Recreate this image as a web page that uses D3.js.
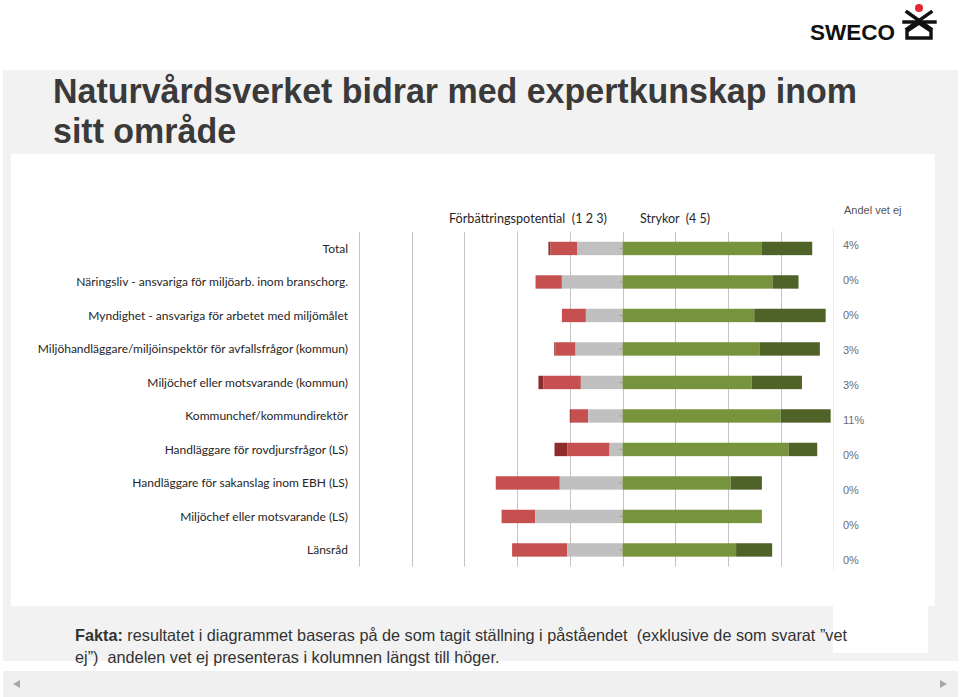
<!DOCTYPE html>
<html><head><meta charset="utf-8">
<script src="https://cdn.jsdelivr.net/npm/d3@7"></script>
<style>
html,body{margin:0;padding:0;background:#fff;}
svg{display:block;}
</style></head>
<body>
<svg id="c" width="960" height="697"></svg>
<script>
// ---- data ----
const categories = [
  "Total",
  "Näringsliv - ansvariga för miljöarb. inom branschorg.",
  "Myndighet - ansvariga för arbetet med miljömålet",
  "Miljöhandläggare/miljöinspektör för avfallsfrågor (kommun)",
  "Miljöchef eller motsvarande (kommun)",
  "Kommunchef/kommundirektör",
  "Handläggare för rovdjursfrågor (LS)",
  "Handläggare för sakanslag inom EBH (LS)",
  "Miljöchef eller motsvarande (LS)",
  "Länsråd"
];
const s1 = [0.8, 0, 0, 0.5, 1.8, 0.4, 4.8, 0, 0, 0];          // 1 (dark red)
const s2 = [10.2, 10.0, 9.1, 7.6, 14.3, 6.6, 16.1, 24.3, 12.8, 20.9]; // 2 (red)
const s3 = [17.1, 23.0, 13.9, 17.8, 15.8, 13.0, 4.9, 23.8, 33.1, 21.0]; // 3 (grey)
const s4 = [52.9, 56.9, 50.0, 52.0, 49.0, 60.0, 63.0, 41.0, 52.9, 43.1]; // 4 (green)
const s5 = [19.1, 9.9, 27.1, 22.9, 19.1, 19.0, 10.9, 11.9, 0, 13.7];     // 5 (dark green)
const vetEj = ["4%","0%","0%","3%","3%","11%","0%","0%","0%","0%"];
const gridTicks = [-100, -80, -60, -40, -20, 0, 20, 40, 60, 80];
const seriesColors = ["#8e2b2b", "#c65050", "#c0c0c0", "#77933c", "#4f6228"];

const svg = d3.select("#c");

// ---- slide background ----
svg.append("rect").attr("x",0).attr("y",0).attr("width",960).attr("height",697).attr("fill","#fff");
svg.append("rect").attr("x",3).attr("y",70).attr("width",955).attr("height",591).attr("fill","#f2f2f2");
svg.append("rect").attr("x",3).attr("y",671).attr("width",955).attr("height",26).attr("fill","#f0f0f0");
svg.append("path").attr("d","M13,684 L20,680 L20,688 Z").attr("fill","#a8a8a8");
svg.append("path").attr("d","M947,684 L940,680 L940,688 Z").attr("fill","#a8a8a8");

// ---- logo ----
const logoT = svg.append("text").attr("x",810).attr("y",40).attr("font-family","Liberation Sans, Arial, sans-serif")
  .attr("font-weight","bold").attr("font-size",22.5).attr("fill","#111").text("SWECO");
logoT.attr("textLength",85).attr("lengthAdjust","spacingAndGlyphs");
const lg = svg.append("g").attr("stroke","#111").attr("stroke-width",3.4).attr("fill","none").attr("stroke-linecap","square");
lg.append("path").attr("d","M907,12 L931,29 M931,12 L907,29");
lg.append("path").attr("d","M904,22 L935,22");
lg.append("path").attr("d","M907,38 L907,31 L919,23 L931,31 L931,38 Z");
svg.append("circle").attr("cx",919).attr("cy",8).attr("r",4).attr("fill","#e4262f");

// ---- title ----
const t1 = svg.append("text").attr("x",53).attr("y",103)
  .attr("font-family","Liberation Sans, Arial, sans-serif").attr("font-weight","bold")
  .attr("font-size",35.5).attr("fill","#3a3a3a").text("Naturvårdsverket bidrar med expertkunskap inom");
const nat1 = t1.node().getComputedTextLength();
const comp = 804 / nat1;
t1.attr("textLength",804).attr("lengthAdjust","spacingAndGlyphs");
const t2 = svg.append("text").attr("x",53).attr("y",143)
  .attr("font-family","Liberation Sans, Arial, sans-serif").attr("font-weight","bold")
  .attr("font-size",35.5).attr("fill","#3a3a3a").text("sitt område");
t2.attr("textLength", t2.node().getComputedTextLength()*comp).attr("lengthAdjust","spacingAndGlyphs");

// ---- chart panel ----
svg.append("rect").attr("x",11).attr("y",154).attr("width",924).attr("height",452).attr("fill","#fff");
svg.append("rect").attr("x",833).attr("y",606).attr("width",95).attr("height",47).attr("fill","#fff");

const x = d3.scaleLinear().domain([-100, 80]).range([359, 833.3]);
const y = d3.scaleBand().domain(categories).range([231.7, 566.7]).paddingInner(0.6).paddingOuter(0.3);

// gridlines
svg.append("g").selectAll("line").data(gridTicks).join("line")
  .attr("x1",d=>Math.round(x(d))+0.5).attr("x2",d=>Math.round(x(d))+0.5)
  .attr("y1",231.7).attr("y2",566.7)
  .attr("stroke",d=> d===80 ? "#ececec" : "#c4c4c4").attr("stroke-width",1);

// bars
const rows = categories.map((c,i)=>({c, v:[s1[i],s2[i],s3[i],s4[i],s5[i]]}));
const segs = [];
rows.forEach(r=>{
  const [a,b,g,h,k] = r.v;
  segs.push({c:r.c, s:0, x0:-(a+b+g), x1:-(b+g)});
  segs.push({c:r.c, s:1, x0:-(b+g), x1:-g});
  segs.push({c:r.c, s:2, x0:-g, x1:0});
  segs.push({c:r.c, s:3, x0:0, x1:h});
  segs.push({c:r.c, s:4, x0:h, x1:h+k});
});
svg.append("g").selectAll("rect").data(segs.filter(d=>d.x1>d.x0)).join("rect")
  .attr("x",d=>x(d.x0)).attr("width",d=>x(d.x1)-x(d.x0))
  .attr("y",d=>y(d.c)).attr("height",y.bandwidth())
  .attr("fill",d=>seriesColors[d.s]);

// zero-axis ticks
svg.append("g").selectAll("line").data(categories).join("line")
  .attr("x1",x(0)-3).attr("x2",x(0))
  .attr("y1",d=>y(d)+y.bandwidth()/2).attr("y2",d=>y(d)+y.bandwidth()/2)
  .attr("stroke","#999").attr("stroke-width",1);

// category labels
svg.append("g").selectAll("text").data(categories).join("text")
  .attr("x",348).attr("y",d=>y(d)+y.bandwidth()/2).attr("dy","0.35em")
  .attr("text-anchor","end").attr("font-family","Lato, sans-serif").attr("font-size",12)
  .attr("fill","#262626").text(d=>d);

// header legend
svg.append("text").attr("x",449).attr("y",223).attr("font-family","Lato, sans-serif").attr("font-size",13)
  .attr("fill","#262626").attr("xml:space","preserve").text("Förbättringspotential  (1 2 3)")
  .attr("textLength",158).attr("lengthAdjust","spacingAndGlyphs");
svg.append("text").attr("x",640).attr("y",223).attr("font-family","Lato, sans-serif").attr("font-size",13)
  .attr("fill","#262626").attr("xml:space","preserve").text("Strykor  (4 5)")
  .attr("textLength",70).attr("lengthAdjust","spacingAndGlyphs");

// "Andel vet ej" column
svg.append("line").attr("x1",833.5).attr("x2",833.5).attr("y1",228).attr("y2",570).attr("stroke","#ececec");
svg.append("text").attr("x",844).attr("y",214).attr("font-family","Liberation Sans, Arial, sans-serif")
  .attr("font-size",11).attr("fill","#555").text("Andel vet ej");
const yv = d3.scalePoint().domain(categories).range([245, 560]);
svg.append("g").selectAll("text").data(categories).join("text")
  .attr("x",843).attr("y",d=>yv(d)).attr("dy","0.35em")
  .attr("font-family","Liberation Sans, Arial, sans-serif").attr("font-size",11).attr("fill","#6e6e6e")
  .text((d,i)=>vetEj[i]);

// ---- footnote ----
const f1 = svg.append("text").attr("x",75).attr("y",641).attr("font-family","Liberation Sans, Arial, sans-serif")
  .attr("font-size",16.5).attr("fill","#333").attr("xml:space","preserve");
f1.append("tspan").attr("font-weight","bold").text("Fakta:");
f1.append("tspan").text(" resultatet i diagrammet baseras på de som tagit ställning i påståendet  (exklusive de som svarat ”vet");
const fn1 = f1.node().getComputedTextLength();
f1.attr("textLength",772).attr("lengthAdjust","spacingAndGlyphs");
const fcomp = 772/fn1;
const f2 = svg.append("text").attr("x",75).attr("y",663).attr("font-family","Liberation Sans, Arial, sans-serif")
  .attr("font-size",16.5).attr("fill","#333").attr("xml:space","preserve")
  .text("ej”)  andelen vet ej presenteras i kolumnen längst till höger.");
f2.attr("textLength", f2.node().getComputedTextLength()*fcomp).attr("lengthAdjust","spacingAndGlyphs");
</script>
</body></html>
